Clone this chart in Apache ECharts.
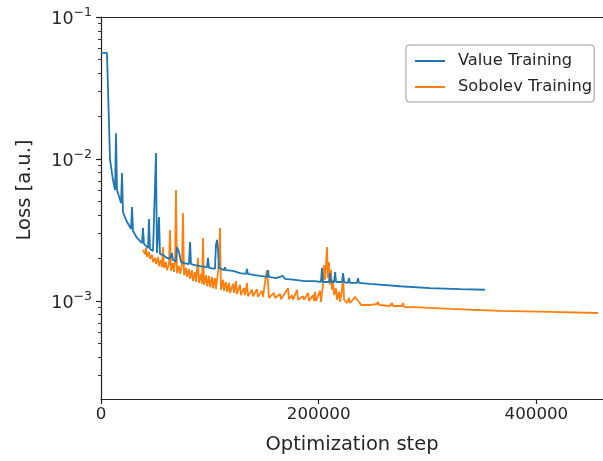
<!DOCTYPE html>
<html><head><meta charset="utf-8">
<script src="https://cdn.jsdelivr.net/npm/echarts@6/dist/echarts.min.js"></script>
<style>html,body{margin:0;padding:0;background:#fff}#c{width:603px;height:461px}</style>
</head><body><div id="c"></div>
<script>
const seriesNames = ['Value Training', 'Sobolev Training'];
const seriesColors = ['#1f77b4', '#ff7f0e'];

// [optimization step, loss]
const valueTraining = [
 [0,0.0558],[5500,0.0558],[8300,0.00984],[11000,0.00711],[12900,0.00605],[13800,0.0152],[14700,0.00605],
 [18400,0.0049],[19300,0.00797],[20200,0.00423],[23000,0.00372],[27600,0.00321],[28500,0.00459],[29400,0.00311],
 [33100,0.00278],[37700,0.00256],[38600,0.00327],[39500,0.00252],[43200,0.00236],[44100,0.00378],[45000,0.00232],
 [47800,0.00225],[49600,0.00221],[50500,0.0110],[51400,0.00218],[52400,0.00218],[53300,0.0039],[54200,0.00214],
 [57000,0.00211],[60600,0.00201],[63400,0.00198],[65200,0.00218],[66100,0.00194],[68900,0.00191],[69800,0.0024],
 [71700,0.00221],[73500,0.00188],[76300,0.00185],[80800,0.00182],[81800,0.0026],[82700,0.00182],[86400,0.00179],
 [91000,0.00176],[97400,0.00173],[98300,0.00201],[99200,0.00171],[104700,0.00168],[105600,0.00248],[106600,0.00269],
 [107500,0.00229],[108400,0.00171],[113000,0.00165],[113900,0.00173],[114800,0.00165],[121300,0.00163],[127700,0.00157],
 [133200,0.00155],[134100,0.00168],[135000,0.00155],[141500,0.00152],[146100,0.0015],[152500,0.00148],[153400,0.00165],
 [154300,0.00148],[160800,0.00145],[167200,0.0015],[169000,0.00143],[178200,0.00141],[187400,0.00138],[196600,0.00138],
 [202100,0.00136],[203000,0.00171],[203900,0.00136],[209500,0.00136],[210400,0.00157],[211300,0.00136],[214200,0.00136],
 [215100,0.0016],[216000,0.00136],[221500,0.00136],[222400,0.00157],[223300,0.00136],[226900,0.00134],[227800,0.00145],
 [228800,0.00134],[235200,0.00134],[236100,0.00145],[237000,0.00134],[247100,0.00132],[274700,0.00127],[302200,0.00123],
 [329800,0.00121],[352800,0.0012]
];

const sobolevTraining = [
 [38600,0.00229],[40400,0.00214],[41300,0.00236],[42300,0.00204],[44100,0.00221],[45000,0.00198],[46900,0.00211],
 [47800,0.00188],[49600,0.00201],[50500,0.00182],[52400,0.00204],[53300,0.00176],[55100,0.00194],[56000,0.00173],
 [56900,0.0024],[57900,0.00171],[59700,0.00188],[60600,0.00165],[62500,0.00182],[63400,0.00316],[64300,0.00163],
 [66100,0.00185],[67100,0.0016],[68000,0.00188],[68900,0.00605],[69800,0.00157],[71700,0.00176],[72600,0.00155],
 [74400,0.00179],[75300,0.00417],[76300,0.00152],[78100,0.00171],[79000,0.00148],[80800,0.00168],[81800,0.00143],
 [83600,0.00165],[84500,0.00138],[86400,0.0016],[87300,0.00136],[89100,0.00201],[90000,0.00134],[91900,0.00155],
 [92800,0.00132],[93700,0.00278],[94600,0.0013],[96500,0.00152],[97400,0.00127],[99200,0.0015],[100100,0.00125],
 [102000,0.00148],[102900,0.00123],[104700,0.00145],[105600,0.00121],[107500,0.0016],[108400,0.00194],[109300,0.00327],
 [110200,0.0012],[112100,0.00141],[113000,0.00118],[114800,0.00136],[115800,0.00116],[117600,0.00134],[118500,0.00114],
 [121300,0.00132],[122200,0.00114],[124000,0.00138],[124900,0.00112],[127700,0.0013],[128600,0.0011],[131400,0.00123],
 [132300,0.0011],[134100,0.00134],[135000,0.00108],[138700,0.0012],[139600,0.00108],[143300,0.00121],[144200,0.00107],
 [147900,0.00118],[148800,0.00107],[151600,0.00152],[152500,0.00165],[153400,0.00136],[154300,0.00105],[158900,0.00114],
 [159900,0.00105],[164500,0.00112],[165400,0.00103],[171800,0.00123],[172700,0.00103],[175500,0.0011],[176400,0.00102],
 [180100,0.0012],[181000,0.00102],[185600,0.00108],[186500,0.00102],[190200,0.00114],[191100,0.001],[194800,0.0011],
 [195700,0.001],[196600,0.00116],[197500,0.001],[201200,0.00118],[202100,0.000984],[203900,0.0013],[204900,0.00179],
 [205800,0.00141],[206700,0.00179],[207600,0.0024],[208500,0.00145],[209500,0.00188],[210400,0.0013],[211300,0.00165],
 [212200,0.0012],[213100,0.00141],[214100,0.0011],[215900,0.00123],[216800,0.00102],[218700,0.00116],[219600,0.000984],
 [221400,0.0012],[222400,0.00157],[223300,0.00102],[226000,0.000968],[227800,0.00105],[228800,0.000968],[231500,0.00102],
 [233300,0.00107],[235200,0.00102],[237000,0.00105],[237900,0.000968],[238900,0.000937],[247100,0.000937],[253600,0.000952],
 [254500,0.000984],[255500,0.000937],[265500,0.000922],[267300,0.000968],[268300,0.000922],[276500,0.000922],[277400,0.000968],
 [278400,0.000907],[293100,0.0009],[320600,0.000879],[366600,0.000851],[412500,0.000837],[456600,0.000823]
];

const xTicks = [0, 200000, 400000];
const yMajorTicks = [1e-3, 1e-2, 1e-1];
const yMinorTicks = [3e-4,4e-4,5e-4,6e-4,7e-4,8e-4,9e-4,
                     2e-3,3e-3,4e-3,5e-3,6e-3,7e-3,8e-3,9e-3,
                     2e-2,3e-2,4e-2,5e-2,6e-2,7e-2,8e-2,9e-2];
const xRange = [0, 461200];
const yRange = [2.04e-4, 0.1];

const axisColor = '#222';
const textColor = '#262626';
const font = 'DejaVu Sans';
const fs = 16.7;
const nameFs = 19.5;

const chart = echarts.init(document.getElementById('c'), null, {renderer: 'canvas'});
chart.setOption({
  animation: false,
  backgroundColor: '#fff',
  textStyle: {fontFamily: font},
  grid: {left: 101, right: 0, top: 17, bottom: 62, containLabel: false},
  legend: {
    data: seriesNames,
    orient: 'vertical',
    left: 406, top: 45,
    padding: [8, 2, 7, 9],
    itemGap: 10,
    itemWidth: 30, itemHeight: 2,
    icon: 'rect',
    textStyle: {fontSize: 16.3, color: textColor, fontFamily: font, padding: [0, 0, 0, 8]},
    borderColor: '#999', borderWidth: 1, borderRadius: 3,
    backgroundColor: 'rgba(255,255,255,0.8)'
  },
  xAxis: [{
    type: 'value', min: xRange[0], max: xRange[1], position: 'bottom',
    axisLine: {show: true, onZero: false, lineStyle: {color: axisColor, width: 1.2}},
    axisTick: {show: true, length: 5, customValues: xTicks, lineStyle: {color: axisColor, width: 1.2}},
    axisLabel: {customValues: xTicks, fontSize: fs, color: textColor, margin: 7, fontFamily: font,
      formatter: v => String(v)},
    splitLine: {show: false},
    name: 'Optimization step', nameLocation: 'middle', nameGap: 36,
    nameTextStyle: {fontSize: nameFs, color: textColor, fontFamily: font}
  }, {
    type: 'value', min: xRange[0], max: xRange[1], position: 'top',
    axisLine: {show: true, onZero: false, lineStyle: {color: axisColor, width: 1.2}},
    axisTick: {show: false}, axisLabel: {show: false}, splitLine: {show: false}
  }],
  yAxis: [{
    type: 'log', logBase: 10, min: yRange[0], max: yRange[1], position: 'left',
    axisLine: {show: true, onZero: false, lineStyle: {color: axisColor, width: 1.2}},
    axisTick: {show: true, length: 5, customValues: yMajorTicks, lineStyle: {color: axisColor, width: 1.2}},
    axisLabel: {
      customValues: yMajorTicks, margin: 9, color: textColor, fontFamily: font,
      formatter: v => '{b|10}{s|\u2212' + Math.abs(Math.round(Math.log10(v))) + '}',
      rich: {
        b: {fontSize: 17.5, color: textColor, fontFamily: font, verticalAlign: 'bottom', lineHeight: 22},
        s: {fontSize: 12.5, color: textColor, fontFamily: font, verticalAlign: 'top', lineHeight: 22}
      }
    },
    splitLine: {show: false},
    name: 'Loss [a.u.]', nameLocation: 'middle', nameGap: 66, nameRotate: 90,
    nameTextStyle: {fontSize: nameFs, color: textColor, fontFamily: font, padding: [0, 0, 0, 36]}
  }, {
    type: 'log', logBase: 10, min: yRange[0], max: yRange[1], position: 'left', offset: 0,
    axisLine: {show: false},
    axisTick: {show: true, length: 3, customValues: yMinorTicks, lineStyle: {color: axisColor, width: 0.9}},
    axisLabel: {show: false}, splitLine: {show: false}
  }],
  series: [{
    name: seriesNames[1], type: 'line', data: sobolevTraining, xAxisIndex: 0, yAxisIndex: 0,
    symbol: 'none', showSymbol: false, z: 2,
    lineStyle: {color: seriesColors[1], width: 1.8}, itemStyle: {color: seriesColors[1]}
  }, {
    name: seriesNames[0], type: 'line', data: valueTraining, xAxisIndex: 0, yAxisIndex: 0,
    symbol: 'none', showSymbol: false, z: 3,
    lineStyle: {color: seriesColors[0], width: 1.8}, itemStyle: {color: seriesColors[0]}
  }]
});
</script></body></html>
